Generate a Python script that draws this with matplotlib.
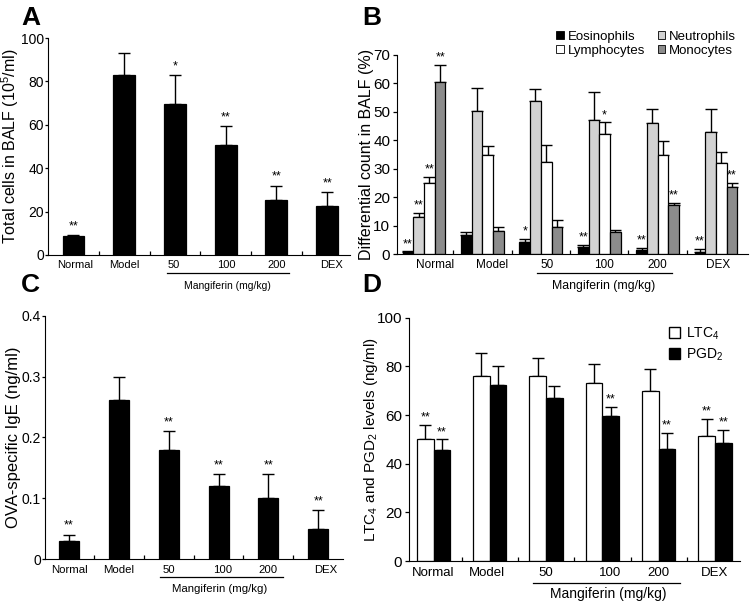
import numpy as np
import matplotlib
matplotlib.use("Agg")
import matplotlib.pyplot as plt
import matplotlib.transforms as mtransforms

plt.rcParams['font.family'] = ['Liberation Sans', 'DejaVu Sans']
plt.rcParams['mathtext.fontset'] = 'custom'
plt.rcParams['mathtext.rm'] = 'Liberation Sans'
plt.rcParams['mathtext.default'] = 'regular'

groups = ['Normal', 'Model', '50', '100', '200', 'DEX']

# panel A - total cells
total_mean = [8.5, 83, 69.5, 50.5, 25.5, 22.5]
total_sd = [0.5, 10, 13.5, 9, 6.5, 6.5]
total_sig = ['**', '', '*', '**', '**', '**']

# panel B - differential counts (%)
cell_types = ['Eosinophils', 'Neutrophils', 'Lymphocytes', 'Monocytes']
eos_mean = [0.8, 6.8, 4.3, 2.5, 1.5, 0.8]
eos_sd = [0.2, 1.2, 1.0, 0.7, 0.8, 1.2]
eos_sig = ['**', '', '*', '**', '**', '**']
neu_mean = [13.2, 50.2, 54, 47.3, 46, 43]
neu_sd = [1.3, 8.3, 4, 9.7, 5, 8]
neu_sig = ['**', '', '', '', '', '']
lym_mean = [25, 35, 32.3, 42.3, 35, 32.2]
lym_sd = [2.3, 3.2, 6.2, 4, 4.8, 3.8]
lym_sig = ['**', '', '', '*', '', '']
mono_mean = [60.5, 8.3, 9.5, 7.7, 17.2, 23.5]
mono_sd = [6, 1.3, 2.5, 0.8, 0.8, 1.7]
mono_sig = ['**', '', '', '', '**', '**']

# panel C - IgE
ige_mean = [0.03, 0.262, 0.18, 0.12, 0.10, 0.05]
ige_sd = [0.01, 0.038, 0.03, 0.02, 0.04, 0.03]
ige_sig = ['**', '', '**', '**', '**', '**']

# panel D - LTC4 / PGD2
ltc_mean = [50, 76, 76, 73, 70, 51.5]
ltc_sd = [6, 9.5, 7.5, 8, 9, 7]
ltc_sig = ['**', '', '', '', '', '**']
pgd_mean = [45.5, 72.5, 67, 59.5, 46, 48.5]
pgd_sd = [4.5, 7.5, 5, 4, 6.5, 5.5]
pgd_sig = ['**', '', '', '**', '**', '**']

x = np.arange(len(groups))


def bars(ax, xpos, mean, sd, sig, color, width, star_off=2, star_fs=9):
    ax.bar(xpos, mean, width, color=color, edgecolor='k', linewidth=0.9, zorder=2)
    ax.errorbar(xpos, mean, yerr=[np.zeros(len(sd)), sd], fmt='none', ecolor='k',
                elinewidth=1.0, capsize=4, capthick=1.0, zorder=1)
    for xi, m, s, t in zip(xpos, mean, sd, sig):
        if t:
            ax.annotate(t, (xi, m + s), xytext=(0, star_off), textcoords='offset points',
                        ha='center', va='bottom', fontsize=star_fs)


def style(ax, ylim, yticks, ylabel, tick_fs, cat_fs, lab_x, ylab_fs, ylab_x, tlen=3, tpad=2):
    ax.spines['top'].set_visible(False)
    ax.spines['right'].set_visible(False)
    ax.set_ylim(*ylim)
    ax.set_yticks(yticks)
    ax.tick_params(axis='y', direction='out', length=tlen, width=0.9, pad=tpad, labelsize=tick_fs)
    ax.set_xticks(np.arange(len(groups) - 1) + 0.5)
    ax.set_xticklabels([])
    ax.tick_params(axis='x', direction='in', length=3, width=0.9)
    ax.set_ylabel(ylabel, fontsize=ylab_fs)
    ax.yaxis.set_label_coords(ylab_x, 0.5)
    tr = mtransforms.blended_transform_factory(ax.transData, ax.transAxes)
    for lx, g in zip(lab_x, groups):
        ax.text(lx, -0.025, g, transform=tr, ha='center', va='top', fontsize=cat_fs)


def mangiferin(ax, x0, x1, ly, tx, ty, fs):
    tr = mtransforms.blended_transform_factory(ax.transData, ax.transAxes)
    ax.plot([x0, x1], [ly, ly], color='k', lw=0.9, transform=tr, clip_on=False)
    ax.text(tx, ty, 'Mangiferin (mg/kg)', transform=tr, ha='center', va='center', fontsize=fs)


fig = plt.figure(figsize=(7.51, 6.04), dpi=100)

# ---- A
axA = fig.add_axes([0.064, 0.578, 0.402, 0.359])
bars(axA, x, total_mean, total_sd, total_sig, 'k', 0.43)
axA.set_xlim(-0.5, 5.45)
style(axA, (0, 100), np.arange(0, 101, 20), 'Total cells in BALF (10$^5$/ml)',
      10, 8, x + np.array([0.04, 0.0, -0.02, 0.02, 0, 0.08]), 11.5, -0.089, tlen=2, tpad=1)
mangiferin(axA, 1.84, 4.25, -0.083, 3.04, -0.145, 7.5)

# ---- B
axB = fig.add_axes([0.529, 0.579, 0.467, 0.330])
wB = 0.183
series = [(eos_mean, eos_sd, eos_sig, 'k'), (neu_mean, neu_sd, neu_sig, '#d2d2d2'),
          (lym_mean, lym_sd, lym_sig, 'white'), (mono_mean, mono_sd, mono_sig, '#8c8c8c')]
handles = []
for i, (m, s, sg, c) in enumerate(series):
    bars(axB, x + (i - 1.5) * wB, m, s, sg, c, wB, star_off=1)
    handles.append(plt.Rectangle((0, 0), 1, 1, facecolor=c, edgecolor='k', linewidth=0.6))
axB.set_xlim(-0.46, 5.55)
style(axB, (0, 70), np.arange(0, 71, 10), 'Differential count in BALF (%)',
      11, 8.5, x + np.array([0.18, 0.17, 0.1, 0.08, 0.0, 0.03]), 11.5, -0.065)
mangiferin(axB, 1.93, 4.25, -0.095, 3.07, -0.158, 8.8)
order = [0, 2, 1, 3]
fig.legend([handles[i] for i in order], [cell_types[i] for i in order], ncol=2,
           loc='upper left', bbox_to_anchor=(0.732, 0.96), frameon=False, fontsize=9.5,
           handlelength=0.55, handleheight=0.55, handletextpad=0.3, columnspacing=1.0,
           labelspacing=0.15, borderpad=0)

# ---- C
axC = fig.add_axes([0.060, 0.0745, 0.397, 0.4025])
bars(axC, x, ige_mean, ige_sd, ige_sig, 'k', 0.4)
axC.set_xlim(-0.48, 5.5)
style(axC, (0, 0.4), [0, 0.1, 0.2, 0.3, 0.4], 'OVA-specific IgE (ng/ml)',
      10, 8.2, x + np.array([0, 0, 0, 0.08, 0, 0.14]), 12, -0.08, tlen=2, tpad=1)
axC.set_yticklabels(['0', '0.1', '0.2', '0.3', '0.4'])
mangiferin(axC, 1.83, 4.3, -0.074, 3.03, -0.123, 8.2)

# ---- D
axD = fig.add_axes([0.545, 0.071, 0.440, 0.403])
wD = 0.296
bars(axD, x - wD / 2, ltc_mean, ltc_sd, ltc_sig, 'white', wD, star_off=1)
bars(axD, x + wD / 2, pgd_mean, pgd_sd, pgd_sig, 'k', wD, star_off=1)
axD.set_xlim(-0.43, 5.44)
style(axD, (0, 100), np.arange(0, 101, 20), 'LTC$_4$ and PGD$_2$ levels (ng/ml)',
      11, 9.5, x + np.array([0, -0.05, 0, 0.14, 0, 0]), 11, -0.09)
mangiferin(axD, 1.77, 4.38, -0.09, 3.1, -0.135, 10)
hD = [plt.Rectangle((0, 0), 1, 1, facecolor='white', edgecolor='k', linewidth=1),
      plt.Rectangle((0, 0), 1, 1, facecolor='k', edgecolor='k', linewidth=1)]
fig.legend(hD, ['LTC$_4$', 'PGD$_2$'], loc='upper left', bbox_to_anchor=(0.882, 0.473),
           frameon=False, fontsize=10, handlelength=0.8, handleheight=0.8,
           handletextpad=0.4, labelspacing=0.35, borderpad=0)

# panel letters
for lab, px, py in [('A', 0.028, 0.99), ('B', 0.483, 0.99), ('C', 0.028, 0.548), ('D', 0.483, 0.548)]:
    fig.text(px, py, lab, fontsize=19, fontweight='bold', ha='left', va='top')

fig.savefig('out.png', dpi=100)
